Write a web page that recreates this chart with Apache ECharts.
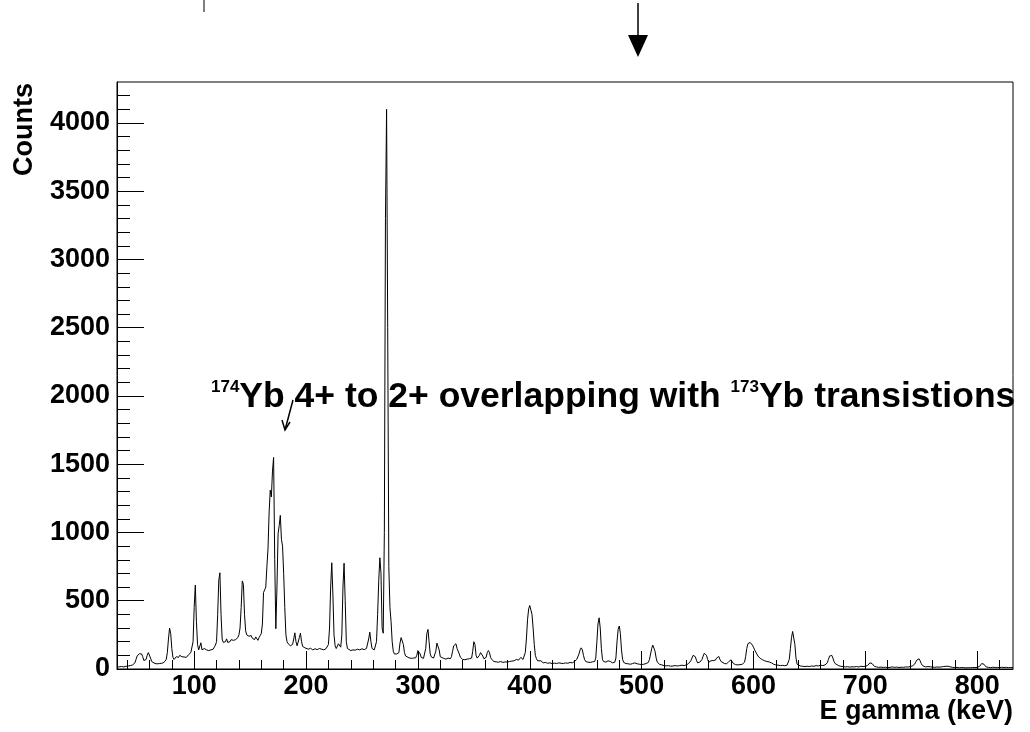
<!DOCTYPE html>
<html>
<head>
<meta charset="utf-8">
<script src="https://cdn.jsdelivr.net/npm/echarts@6/dist/echarts.min.js"></script>
<style>html,body{margin:0;padding:0;background:#fff;}#c{width:1030px;height:732px;}</style>
</head>
<body>
<div id="c"></div>
<script>
// Spectrum: [E gamma (keV), counts]
const lowBand = [[31,15],[33,16],[35,18],[37,15],[39,20],[41,22],[43,25],[45,30],[47,45],[48,70],[49,95],[50,108],[51,112],[52,108],[53,110],[54,90],[55,62],[56,50],[57,70],[58,100],[59,120],[60,115],[61,80],[62,55],[63,45],[65,40],[67,38],[69,40],[71,42],[73,48],[74,55],[75,70],[76,120],[77,220],[78,300],[79,260],[80,150],[81,85],[82,70],[83,75],[84,90],[85,95],[86,85],[87,100],[88,95],[89,90],[90,100],[91,88],[92,92],[93,85],[94,95],[95,105],[96,110],[97,120],[98,125],[99,200],[100,450],[101,615],[102,350],[103,180],[104,140],[105,150],[106,192],[107,140],[108,130],[109,150],[110,155],[111,140],[112,150],[113,135],[114,145],[115,140],[116,148],[117,145],[118,160],[119,175],[120,200],[121,400],[122,650],[123,705],[124,400],[125,220],[126,195],[127,190],[128,200],[129,221],[130,195],[131,205],[132,200],[133,215],[134,205],[135,210],[136,220],[137,215],[138,225],[139,230],[140,250],[141,300],[142,450],[143,645],[144,620],[145,400],[146,280],[147,250],[148,257],[149,240],[150,235],[151,245],[152,225],[153,230],[154,215],[155,235],[156,225],[157,210],[158,230],[159,245]];
const doubletBand = [[160,260],[161,330],[162,560],[163,580],[164,600],[165,750],[166,880],[167,1150],[168,1310],[169,1260],[170,1450],[171,1550],[172,800],[173,295],[174,600],[175,990],[176,1050],[177,1125],[178,950],[179,900],[180,700],[181,450],[182,250],[183,200],[184,185],[185,175],[186,170],[187,175],[188,180],[189,220],[190,265],[191,200],[192,170],[193,180],[194,230],[195,262],[196,200],[197,165],[198,160],[199,155],[200,150],[202,145],[204,152],[206,140],[208,148],[210,142],[212,150],[214,145],[216,140],[218,150],[219,160],[220,180],[221,300],[222,600],[223,778],[224,550],[225,250],[226,170],[227,150],[228,160],[229,185],[230,197],[231,160],[232,250],[233,600],[234,775],[235,500],[236,200],[237,150],[238,140],[240,135],[242,140],[244,138],[246,145],[248,140],[250,148],[252,142],[254,150],[255,160],[256,220],[257,270],[258,200],[259,150],[260,145],[261,140],[262,150],[263,200],[264,400],[265,650],[266,815],[267,700],[268,300],[269,262],[270,1000],[271,3300],[272,4100],[273,2500],[274,750],[275,450],[276,350],[277,200],[278,130],[279,110],[280,100],[281,110],[282,98],[283,120],[284,190],[285,230],[286,235],[287,180],[288,120],[289,95]];
const midBand = [[290,85],[292,82],[294,78],[296,80],[298,82],[299,100],[300,135],[301,145],[302,110],[303,85],[304,75],[305,78],[306,90],[307,150],[308,260],[309,290],[310,200],[311,110],[312,88],[313,85],[314,80],[315,90],[316,130],[317,190],[318,200],[319,140],[320,90],[321,80],[323,78],[325,72],[327,80],[329,75],[330,90],[331,130],[332,170],[333,180],[334,185],[335,150],[336,140],[337,110],[338,85],[339,75],[340,70],[342,68],[344,72],[346,75],[348,80],[349,130],[350,200],[351,180],[352,100],[353,80],[354,85],[355,100],[356,120],[357,125],[358,95],[359,75],[360,70],[361,85],[362,120],[363,135],[364,120],[365,85],[366,70],[368,55],[370,52],[372,50],[374,55],[376,48],[378,52],[380,50],[382,55],[384,58],[386,60],[388,70],[390,65],[391,75],[392,85],[393,80],[394,70],[395,80],[396,120],[397,220],[398,360],[399,440],[400,465],[401,460],[402,400],[403,300],[404,180],[405,100],[406,75],[407,60],[408,55],[410,60],[412,45],[414,48],[416,42],[418,45],[420,40],[422,43],[424,40],[426,45],[428,42],[430,40],[432,45],[434,42],[436,48],[438,45],[440,55],[442,70],[444,110],[445,140],[446,155],[447,140],[448,100],[449,70],[450,55],[452,50],[454,48],[456,52],[458,55],[459,80],[460,200],[461,330],[462,375],[463,300],[464,150],[465,70],[466,55],[468,50],[470,60],[471,65],[472,55],[474,45],[476,50],[477,80],[478,200],[479,290],[480,315],[481,260],[482,140],[483,70],[484,48],[486,40],[488,38],[490,35],[492,40],[494,45],[496,38],[498,35],[500,33],[502,35],[504,40],[506,48],[507,70],[508,110],[509,150],[510,175],[511,170],[512,130],[513,80],[514,50],[516,35],[518,30],[520,25],[522,23],[524,25],[526,20],[528,22],[530,25],[532,22],[534,25],[536,28],[538,25],[540,30],[542,40],[544,60],[545,80],[546,100],[547,106],[548,90],[549,65],[550,45],[551,42],[552,50],[553,55],[554,70],[555,95],[556,115],[557,120],[558,100],[559,70]];
const highBand = [[560,50],[561,55],[562,60],[563,68],[564,62],[565,55],[566,65],[567,80],[568,90],[569,92],[570,70],[571,55],[572,42],[574,40],[576,38],[577,45],[578,55],[579,65],[580,67],[581,55],[582,40],[584,32],[586,30],[588,32],[590,35],[592,50],[593,90],[594,150],[595,185],[596,197],[597,195],[598,185],[599,175],[600,160],[601,140],[602,125],[603,110],[604,95],[605,85],[606,78],[607,75],[608,68],[610,60],[612,55],[614,52],[616,45],[618,35],[620,30],[622,28],[624,25],[626,27],[628,24],[630,28],[631,40],[632,70],[633,150],[634,230],[635,275],[636,270],[637,180],[638,80],[639,35],[640,25],[642,22],[644,20],[646,18],[648,20],[650,18],[652,22],[654,20],[656,25],[658,22],[660,28],[662,25],[664,30],[666,45],[667,70],[668,95],[669,105],[670,100],[671,80],[672,55],[673,40],[674,30],[676,25],[678,20],[680,18],[682,15],[684,17],[686,14],[688,16],[690,15],[692,18],[694,15],[696,20],[698,18],[700,20],[702,25],[703,35],[704,45],[705,48],[706,40],[707,28],[708,20],[710,15],[712,12],[714,14],[716,11],[718,13],[720,10],[722,12],[724,15],[726,12],[728,14],[730,11],[732,13],[734,12],[736,15],[738,14],[740,18],[742,22],[744,35],[745,50],[746,65],[747,74],[748,75],[749,60],[750,40],[751,25],[752,18],[754,15],[756,18],[758,16],[760,14],[762,12],[764,15],[766,13],[768,16],[770,18],[772,20],[773,22],[774,20],[776,16],[778,12],[780,10],[782,12],[784,9],[786,11],[788,10],[790,8],[792,10],[794,9],[796,11],[798,10],[800,12],[802,18],[803,30],[804,40],[805,42],[806,35],[807,22],[808,15],[810,12],[812,10],[814,13],[816,11],[818,12],[820,10],[822,13],[824,11],[826,12],[828,10],[830,11],[832,10]];

const xMajorTicks = [100,200,300,400,500,600,700,800];
const xMinorTicks = [40,60,80,120,140,160,180,220,240,260,280,320,340,360,380,420,440,460,480,520,540,560,580,620,640,660,680,720,740,760,780,820];
const yMajorTicks = [0,500,1000,1500,2000,2500,3000,3500,4000];
const yMinorTicks = [100,200,300,400,600,700,800,900,1100,1200,1300,1400,1600,1700,1800,1900,2100,2200,2300,2400,2600,2700,2800,2900,3100,3200,3300,3400,3600,3700,3800,3900,4100,4200];

const spectrum = lowBand.concat(doubletBand, midBand, highBand);
const FONT = '"Liberation Sans", Arial, Helvetica, sans-serif';
const X_MIN = 31, X_MAX = 832, Y_MAX = 4300;

const chart = echarts.init(document.getElementById('c'), null, {renderer: 'canvas'});
const labelStyle = {color: '#000', fontFamily: FONT, fontWeight: 'bold', fontSize: 27, formatter: function (v) { return String(v); }};

chart.setOption({
  animation: false,
  backgroundColor: '#fff',
  grid: {left: 117, right: 17, top: 82, bottom: 63, show: true, borderColor: '#000', borderWidth: 1, backgroundColor: 'transparent'},
  xAxis: [
    {type: 'value', min: X_MIN, max: X_MAX, position: 'bottom',
     axisLine: {show: true, onZero: false, lineStyle: {color: '#000', width: 1}},
     axisTick: {show: true, inside: true, length: 18, customValues: xMajorTicks, lineStyle: {color: '#000', width: 1}},
     axisLabel: Object.assign({show: true, margin: 4, customValues: xMajorTicks}, labelStyle),
     splitLine: {show: false}},
    {type: 'value', min: X_MIN, max: X_MAX, position: 'bottom',
     axisLine: {show: false},
     axisTick: {show: true, inside: true, length: 9, customValues: xMinorTicks, lineStyle: {color: '#000', width: 1}},
     axisLabel: {show: false},
     splitLine: {show: false}}
  ],
  yAxis: [
    {type: 'value', min: 0, max: Y_MAX, position: 'left',
     axisLine: {show: true, onZero: false, lineStyle: {color: '#000', width: 1}},
     axisTick: {show: true, inside: true, length: 27, customValues: yMajorTicks, lineStyle: {color: '#000', width: 1}},
     axisLabel: Object.assign({show: true, margin: 7, customValues: yMajorTicks}, labelStyle),
     splitLine: {show: false}},
    {type: 'value', min: 0, max: Y_MAX, position: 'left',
     axisLine: {show: false},
     axisTick: {show: true, inside: true, length: 13, customValues: yMinorTicks, lineStyle: {color: '#000', width: 1}},
     axisLabel: {show: false},
     splitLine: {show: false}}
  ],
  series: [{
    type: 'line', xAxisIndex: 0, yAxisIndex: 0,
    data: spectrum, showSymbol: false, symbol: 'none', smooth: false,
    lineStyle: {color: '#000', width: 1}, silent: true
  }],
  graphic: [
    {type: 'line', shape: {x1: 204, y1: 0, x2: 204, y2: 12}, style: {stroke: '#000', lineWidth: 1}},
    {type: 'line', shape: {x1: 638, y1: 3, x2: 638, y2: 38}, style: {stroke: '#000', lineWidth: 1.5}},
    {type: 'polygon', shape: {points: [[628, 35], [648, 35], [638, 57]]}, style: {fill: '#000'}},
    {type: 'line', shape: {x1: 293, y1: 400, x2: 285, y2: 430}, style: {stroke: '#000', lineWidth: 1.5}},
    {type: 'polyline', shape: {points: [[282, 420], [285, 430], [290, 422]]}, style: {stroke: '#000', lineWidth: 1.5, fill: null}},
    {type: 'text', x: 25, y: 83, rotation: Math.PI / 2,
     style: {text: 'Counts', fill: '#000', font: 'bold 27px ' + FONT, textAlign: 'right', textVerticalAlign: 'middle'}},
    {type: 'text', x: 1013, y: 712,
     style: {text: 'E gamma (keV)', fill: '#000', font: 'bold 27px ' + FONT, textAlign: 'right', textVerticalAlign: 'middle'}},
    {type: 'text', x: 211, y: 397,
     style: {
       text: '{s|174}{m|Yb 4+ to 2+ overlapping with }{s|173}{m|Yb transistions}',
       textAlign: 'left', textVerticalAlign: 'middle',
       rich: {
         m: {fill: '#000', fontFamily: FONT, fontWeight: 'bold', fontSize: 35.5, lineHeight: 36},
         s: {fill: '#000', fontFamily: FONT, fontWeight: 'bold', fontSize: 17, lineHeight: 17, verticalAlign: 'top'}
       }
     }}
  ]
});
</script>
</body>
</html>
